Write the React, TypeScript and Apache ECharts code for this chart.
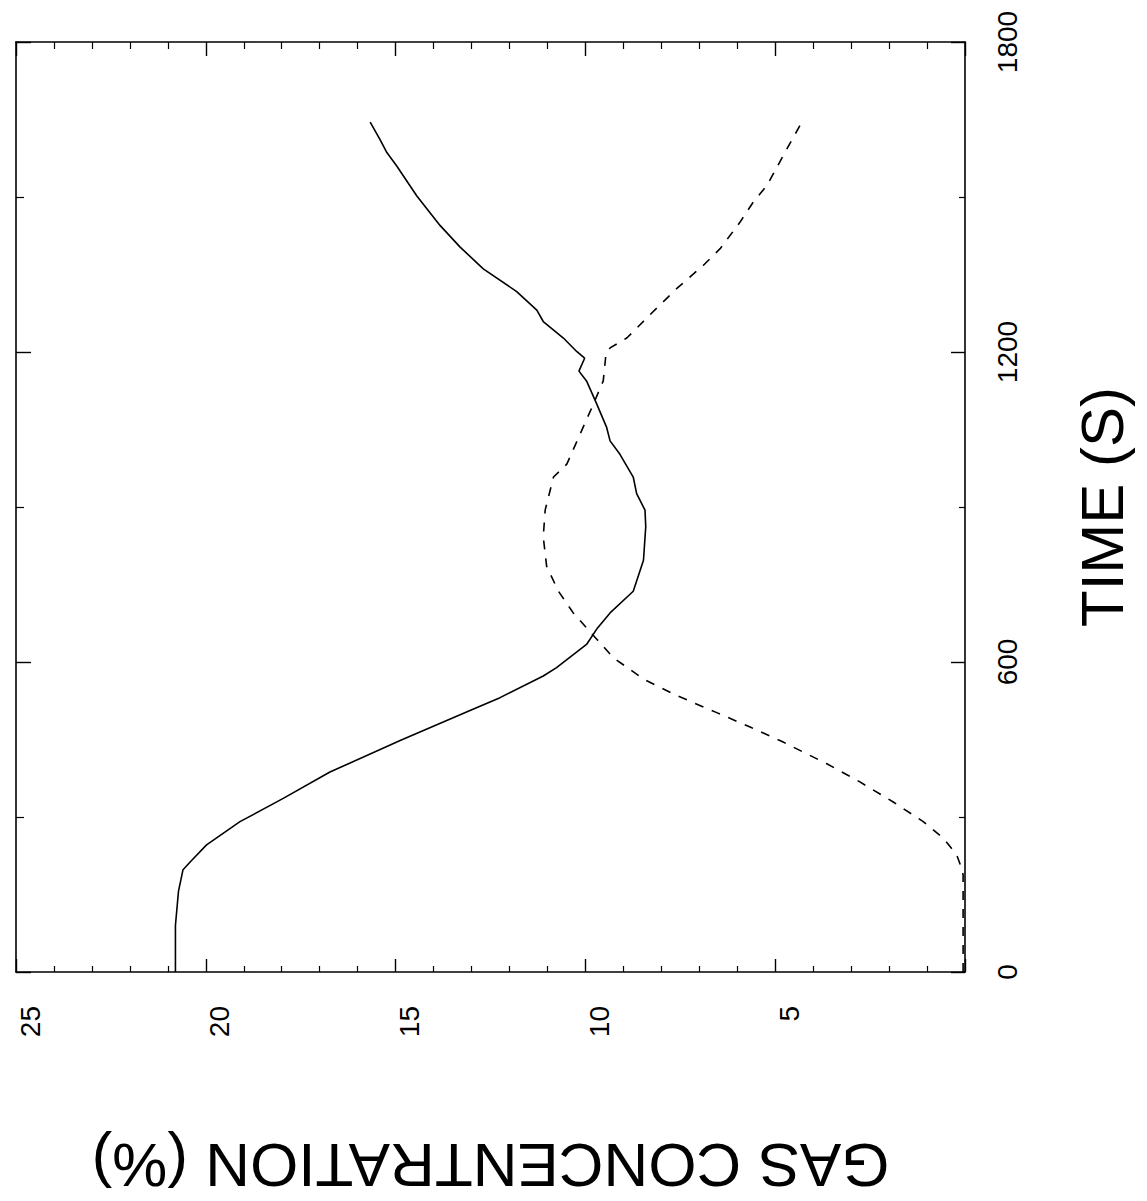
import React, { useEffect, useRef } from "react";
import * as echarts from "echarts";

// Solid curve (O2) — time (s) and concentration (%)
const solidTime = [0, 90, 156, 198, 214, 246, 291, 336, 387, 448, 506, 531, 573, 589, 634, 666, 695, 737, 797, 862, 894, 926, 958, 1002, 1028, 1054, 1099, 1144, 1163, 1188, 1201, 1227, 1259, 1281, 1317, 1361, 1403, 1445, 1502, 1560, 1586, 1611, 1645];
const solidConc = [20.8, 20.8, 20.72, 20.6, 20.4, 19.98, 19.1, 17.96, 16.73, 14.88, 13.04, 12.25, 11.11, 10.76, 9.97, 9.68, 9.35, 8.74, 8.47, 8.41, 8.43, 8.65, 8.74, 9.09, 9.35, 9.44, 9.7, 9.97, 10.17, 10.02, 10.23, 10.58, 11.11, 11.28, 11.81, 12.69, 13.3, 13.83, 14.44, 14.97, 15.23, 15.41, 15.67];

// Dashed curve (CO2) — time (s) and concentration (%)
const dashedTime = [0, 100, 188, 201, 227, 259, 291, 329, 368, 403, 445, 474, 502, 535, 567, 608, 644, 695, 737, 785, 842, 894, 958, 983, 1041, 1099, 1144, 1195, 1208, 1227, 1272, 1323, 1368, 1400, 1451, 1490, 1522, 1592, 1650];
const dashedConc = [0.05, 0.05, 0.05, 0.09, 0.22, 0.57, 1.1, 1.89, 2.77, 3.64, 4.79, 5.66, 6.54, 7.59, 8.47, 9.26, 9.7, 10.32, 10.71, 11.02, 11.11, 11.06, 10.84, 10.49, 10.14, 9.79, 9.53, 9.46, 9.35, 8.91, 8.3, 7.59, 6.89, 6.45, 5.93, 5.58, 5.22, 4.7, 4.26];

const concTickLabels = ["", "5", "10", "15", "20", "25"];
const timeTickLabels = ["0", "600", "1200", "1800"];
const timeTitle = "TIME (S)";
const concTitle = "GAS CONCENTRATION (%)";

const FONT = "'Liberation Sans', Arial, Helvetica, sans-serif";

export default function App() {
  const ref = useRef<HTMLDivElement>(null);
  useEffect(() => {
    if (!ref.current) return;
    const chart = echarts.init(ref.current, null, { renderer: "svg" });
    const axisLine = { show: true, onZero: false, lineStyle: { color: "#000", width: 1.6 } };
    const option: any = {
      animation: false,
      backgroundColor: "#fff",
      grid: { left: 16, right: 182, top: 42, bottom: 223, containLabel: false },
      xAxis: [
        {
          type: "value",
          min: 0,
          max: 25,
          interval: 5,
          inverse: true,
          position: "bottom",
          axisLine,
          axisTick: { show: true, inside: true, length: 13, lineStyle: { color: "#000", width: 1.4 } },
          minorTick: { show: true, splitNumber: 5, length: 6, lineStyle: { color: "#000", width: 1.2 } },
          splitLine: { show: false },
          axisLabel: {
            rotate: 90,
            margin: 34,
            fontSize: 28,
            fontFamily: FONT,
            color: "#000",
            verticalAlign: "top",
            formatter: (v: number) => concTickLabels[Math.round(v / 5)] ?? "",
          },
          name: concTitle,
          nameLocation: "middle",
          nameRotate: 180,
          nameGap: 162,
          nameTextStyle: { fontSize: 62, fontFamily: FONT, color: "#000" },
        },
        {
          type: "value",
          min: 0,
          max: 25,
          interval: 5,
          inverse: true,
          position: "top",
          axisLine,
          axisTick: { show: true, inside: true, length: 14, lineStyle: { color: "#000", width: 1.4 } },
          minorTick: { show: true, splitNumber: 5, length: 7, lineStyle: { color: "#000", width: 1.2 } },
          splitLine: { show: false },
          axisLabel: { show: false },
        },
      ],
      yAxis: [
        {
          type: "value",
          min: 0,
          max: 1800,
          interval: 600,
          position: "right",
          axisLine,
          axisTick: { show: true, inside: true, length: 14, lineStyle: { color: "#000", width: 1.4 } },
          minorTick: { show: true, splitNumber: 2, length: 6, lineStyle: { color: "#000", width: 1.2 } },
          splitLine: { show: false },
          axisLabel: {
            rotate: 90,
            margin: 28,
            fontSize: 28,
            fontFamily: FONT,
            color: "#000",
            formatter: (v: number) => timeTickLabels[Math.round(v / 600)] ?? "",
          },
          name: timeTitle,
          nameLocation: "middle",
          nameGap: 107,
          nameTextStyle: { fontSize: 60, fontFamily: FONT, color: "#000" },
        },
        {
          type: "value",
          min: 0,
          max: 1800,
          interval: 600,
          position: "left",
          axisLine,
          axisTick: { show: true, inside: true, length: 15, lineStyle: { color: "#000", width: 1.4 } },
          minorTick: { show: true, splitNumber: 2, length: 8, lineStyle: { color: "#000", width: 1.2 } },
          splitLine: { show: false },
          axisLabel: { show: false },
        },
      ],
      series: [
        {
          type: "line",
          xAxisIndex: 0,
          yAxisIndex: 0,
          showSymbol: false,
          smooth: false,
          lineStyle: { color: "#000", width: 1.6, type: "solid" },
          data: solidTime.map((t, i) => [solidConc[i], t]),
        },
        {
          type: "line",
          xAxisIndex: 0,
          yAxisIndex: 0,
          showSymbol: false,
          smooth: false,
          lineStyle: { color: "#000", width: 1.6, type: [9, 9] },
          data: dashedTime.map((t, i) => [dashedConc[i], t]),
        },
      ],
    };
    chart.setOption(option);
    return () => chart.dispose();
  }, []);
  return (
    <div
      ref={ref}
      style={{ position: "absolute", left: 0, top: 0, width: 1147, height: 1201, background: "#fff" }}
    />
  );
}
